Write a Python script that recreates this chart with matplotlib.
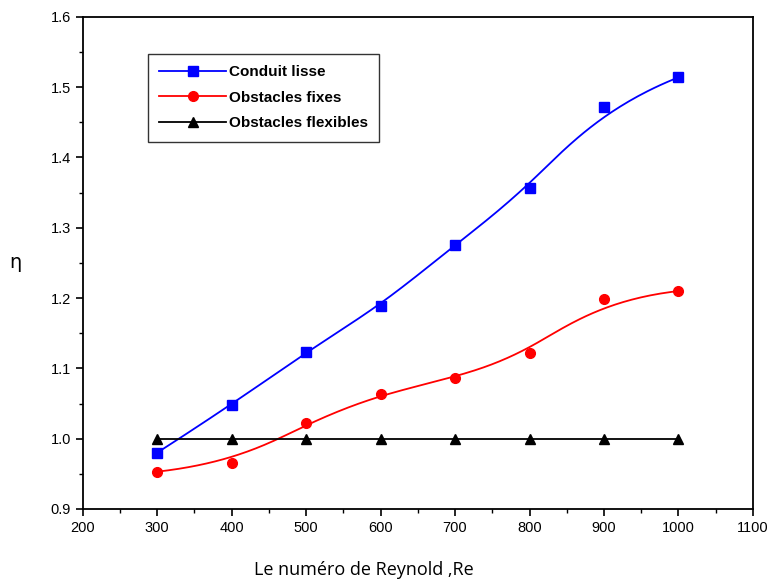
import numpy as np
import matplotlib.pyplot as plt
from matplotlib.ticker import MultipleLocator

# data
reynolds = [300, 400, 500, 600, 700, 800, 900, 1000]
conduit_lisse = [0.980, 1.048, 1.124, 1.189, 1.276, 1.357, 1.472, 1.514]
obstacles_fixes = [0.953, 0.965, 1.022, 1.063, 1.087, 1.122, 1.198, 1.210]
obstacles_flexibles = [1.0, 1.0, 1.0, 1.0, 1.0, 1.0, 1.0, 1.0]


def bspline(xs, ys, n=300, k=3):
    # clamped uniform B-spline through the data as control points
    pts = np.column_stack([xs, ys]).astype(float)
    m = len(pts)
    inner = np.arange(1, m - k) / (m - k)
    knots = np.concatenate([np.zeros(k + 1), inner, np.ones(k + 1)])
    t = np.linspace(0, 1, n)
    t[-1] = 1 - 1e-12

    def basis(i, p, t):
        if p == 0:
            return ((knots[i] <= t) & (t < knots[i + 1])).astype(float)
        out = np.zeros_like(t)
        d1 = knots[i + p] - knots[i]
        d2 = knots[i + p + 1] - knots[i + 1]
        if d1 > 0:
            out += (t - knots[i]) / d1 * basis(i, p - 1, t)
        if d2 > 0:
            out += (knots[i + p + 1] - t) / d2 * basis(i + 1, p - 1, t)
        return out

    B = np.array([basis(i, k, t) for i in range(m)])
    curve = B.T @ pts
    return curve[:, 0], curve[:, 1]


fig = plt.figure(figsize=(7.73, 5.83), dpi=100)
ax = fig.add_axes([0.107, 0.127, 0.867, 0.844])

series = [
    (conduit_lisse, 'blue', 's', 'Conduit lisse'),
    (obstacles_fixes, 'red', 'o', 'Obstacles fixes'),
    (obstacles_flexibles, 'black', '^', 'Obstacles flexibles'),
]
for ys, col, mk, lab in series:
    cx, cy = bspline(reynolds, ys)
    ax.plot(cx, cy, color=col, lw=1.3)
    ax.plot(reynolds, ys, linestyle='none', marker=mk, color=col, ms=7)
    # legend proxy
    ax.plot([], [], color=col, marker=mk, ms=7, lw=1.3, label=lab)

ax.set_xlim(200, 1100)
ax.set_ylim(0.9, 1.6)
ax.xaxis.set_major_locator(MultipleLocator(100))
ax.xaxis.set_minor_locator(MultipleLocator(50))
ax.yaxis.set_major_locator(MultipleLocator(0.1))
ax.yaxis.set_minor_locator(MultipleLocator(0.05))
ax.yaxis.set_major_formatter(plt.FormatStrFormatter('%.1f'))
ax.tick_params(which='major', direction='out', length=5, width=1.2,
               labelsize=10.5, labelfontfamily='Liberation Sans')
ax.tick_params(which='minor', direction='out', length=3, width=1.0)
for s in ax.spines.values():
    s.set_linewidth(1.3)

ax.set_xlabel('Le numéro de Reynold ,Re', fontsize=13, family='Open Sans')
ax.xaxis.set_label_coords(0.42, -0.105)
ax.set_ylabel('η', fontsize=14, family='DejaVu Sans', rotation=0,
              ha='center', va='center')
ax.yaxis.set_label_coords(-0.10, 0.50)

leg = ax.legend(loc='upper left', bbox_to_anchor=(0.097, 0.925),
                fancybox=False, edgecolor='black', handlelength=4.4,
                prop={'weight': 'bold', 'size': 11, 'family': 'Liberation Sans'},
                borderpad=0.75, labelspacing=0.75, handletextpad=0.15,
                borderaxespad=0)
leg.get_frame().set_linewidth(1.0)

plt.savefig('out.png', dpi=100)
